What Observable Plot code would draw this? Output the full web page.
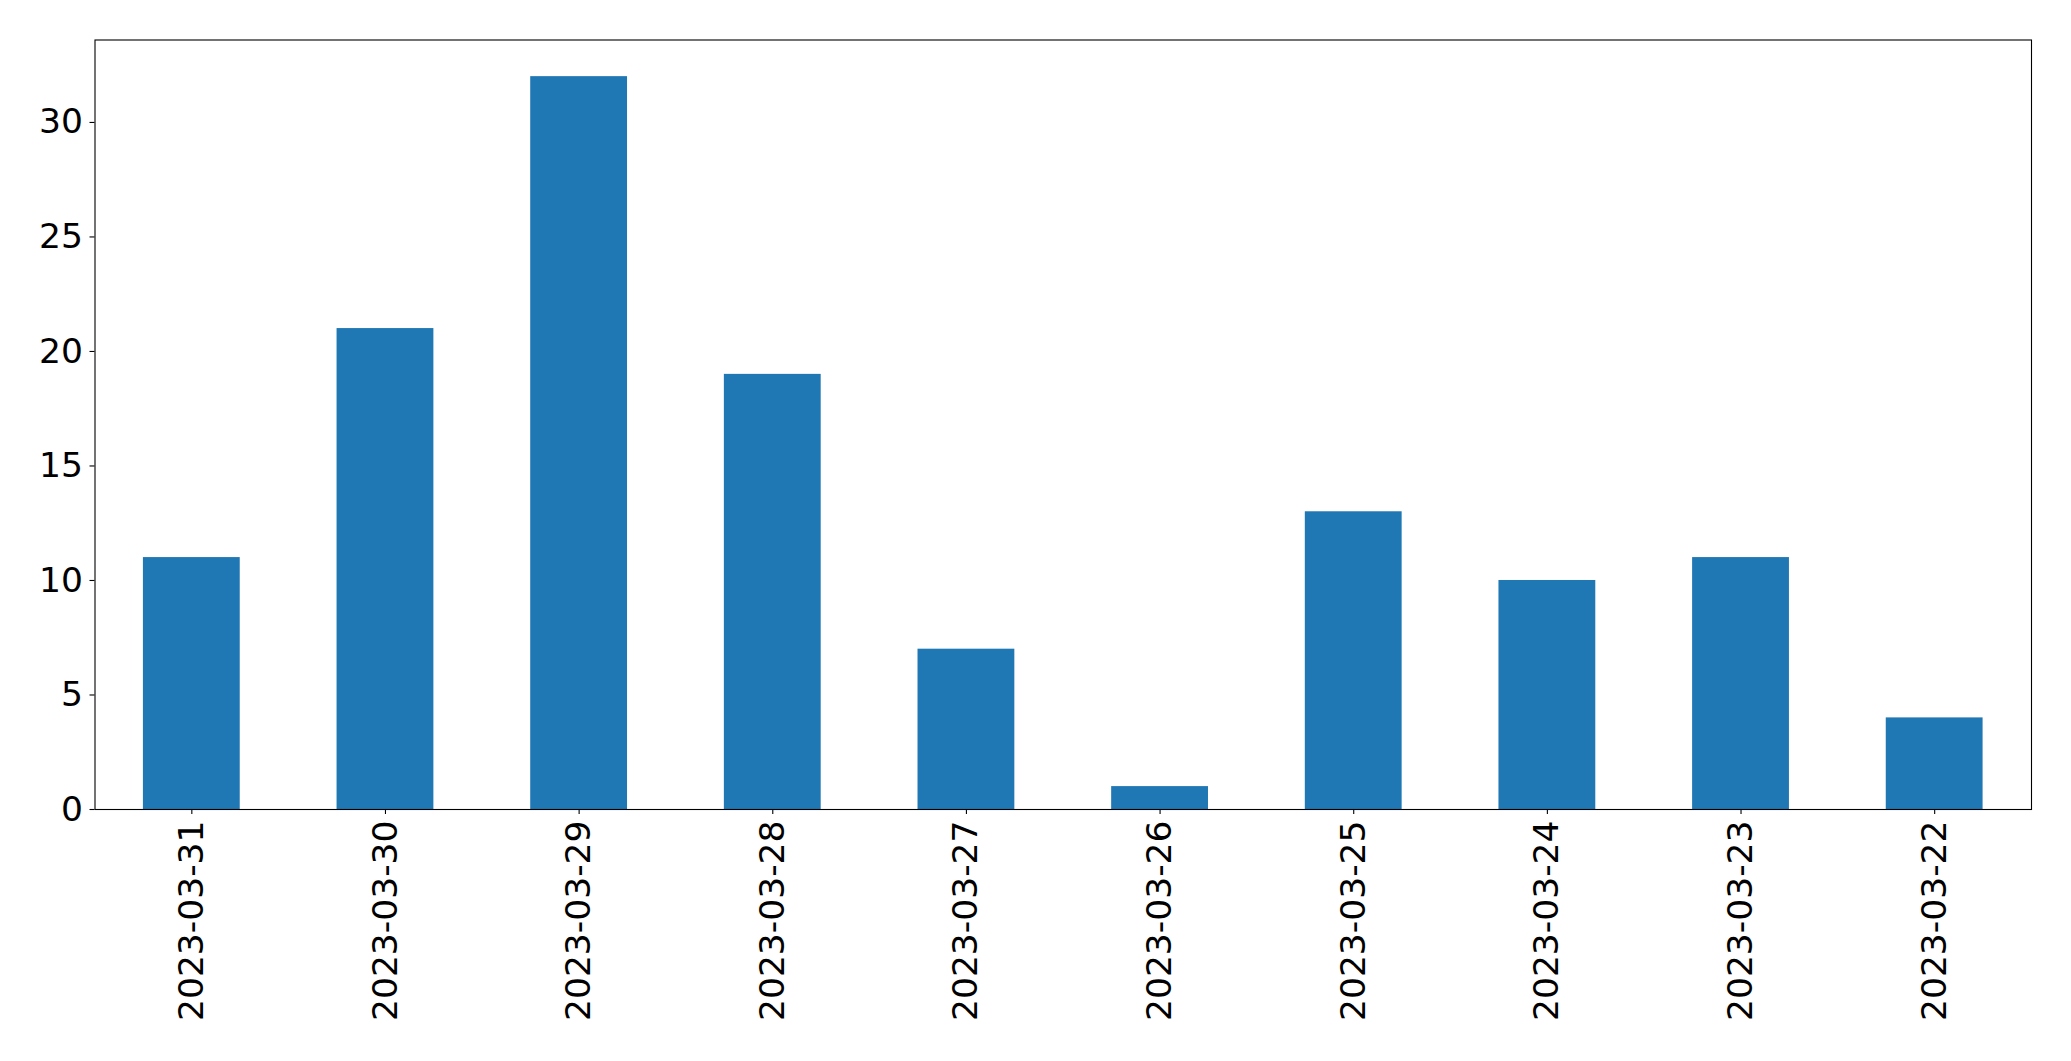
<!DOCTYPE html>
<html>
<head>
<meta charset="utf-8">
<script src="https://cdn.jsdelivr.net/npm/d3@7"></script>
<script src="https://cdn.jsdelivr.net/npm/@observablehq/plot@0.6"></script>
<style>
  html, body { margin: 0; padding: 0; background: #fff; }
  svg { display: block; }
</style>
</head>
<body>
<div id="chart"></div>
<script>
const dates = ["2023-03-31","2023-03-30","2023-03-29","2023-03-28","2023-03-27","2023-03-26","2023-03-25","2023-03-24","2023-03-23","2023-03-22"];
const counts = [11, 21, 32, 19, 7, 1, 13, 10, 11, 4];
const yTicks = [0, 5, 10, 15, 20, 25, 30];

const data = dates.map((d, i) => ({date: d, count: counts[i]}));

const chart = Plot.plot({
  width: 2071,
  height: 1061,
  marginLeft: 94.5,
  marginRight: 40,
  marginTop: 39.5,
  marginBottom: 252,
  style: {fontFamily: "DejaVu Sans", fontSize: "34.5px", color: "#000", background: "#fff"},
  x: {domain: dates, paddingInner: 0.5, paddingOuter: 0.25, round: false, label: null},
  y: {domain: [0, 33.6], label: null},
  marks: [
    Plot.barY(data, {x: "date", y: "count", fill: "#1f77b4"}),
    Plot.frame({stroke: "#000", strokeWidth: 1.1}),
    Plot.axisY({ticks: yTicks, tickSize: 5, tickPadding: 7, fontSize: 34.5, label: null, strokeWidth: 1.1}),
    Plot.axisX({tickSize: 5, tickPadding: 6, tickRotate: -90, fontSize: 34.5, label: null, strokeWidth: 1.1})
  ]
});
document.getElementById("chart").appendChild(chart);
</script>
</body>
</html>
